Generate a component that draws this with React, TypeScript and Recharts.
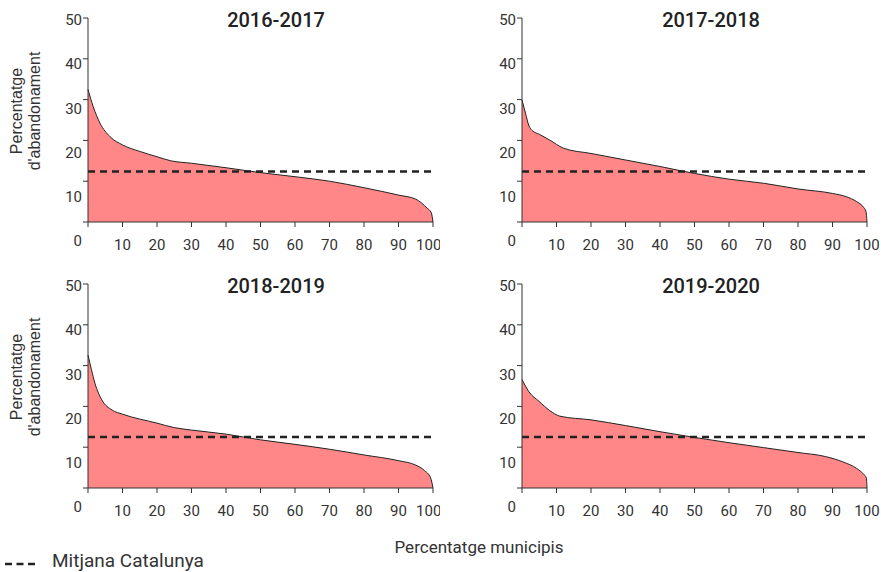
import { AreaChart, Area, XAxis, YAxis, ReferenceLine } from 'recharts'

// percentile of municipalities (x) and dropout % (y)
const pct1617 = [0, 1.5, 3.5, 6.4, 10, 15, 20, 24, 30, 40, 50, 60, 70, 80, 90, 95, 98.3, 99.5, 100]
const val1617 = [32.5, 28.3, 24.2, 20.9, 18.9, 17.3, 16.0, 15.0, 14.4, 13.3, 12.1, 11.1, 10.0, 8.4, 6.6, 5.6, 3.4, 2.3, 0]

const pct1718 = [0, 1, 2, 3, 5, 8, 12, 20, 30, 40, 50, 60, 70, 80, 90, 94, 97, 99, 99.7, 100]
const val1718 = [29.9, 26.7, 23.6, 22.4, 21.5, 20.1, 18.1, 16.8, 15.2, 13.6, 11.9, 10.5, 9.5, 8.1, 7.0, 6.2, 5.0, 3.6, 2.6, 0]

const pct1819 = [0, 1, 2, 4, 7, 10, 20, 25, 30, 40, 50, 60, 70, 80, 90, 95, 97.5, 99.3, 100]
const val1819 = [32.6, 29.0, 25.7, 21.6, 19.1, 18.1, 15.9, 14.8, 14.2, 13.2, 11.8, 10.7, 9.5, 8.1, 6.7, 5.6, 4.3, 2.5, 0]

const pct1920 = [0, 2, 5, 8, 11, 20, 30, 40, 50, 60, 70, 80, 88, 93, 97, 99, 99.8, 100]
const val1920 = [26.6, 23.6, 21.2, 19.0, 17.6, 16.7, 15.3, 13.8, 12.4, 11.1, 9.9, 8.7, 7.7, 6.4, 4.8, 3.4, 2.5, 0]

const titles = ['2016-2017', '2017-2018', '2018-2019', '2019-2020']
const averages = [12.4, 12.4, 12.5, 12.5]

const xTicks = [0, 10, 20, 30, 40, 50, 60, 70, 80, 90, 100]
const yTicks = [0, 10, 20, 30, 40, 50]

const toRows = (pct: number[], val: number[]) => pct.map((p, i) => ({ pct: p, value: val[i] }))

// the original's y labels drift downward relative to their ticks
function YTick(props: any) {
  const { x, y, payload } = props
  const v = payload.value
  const off = 2 + (50 - v) * 0.33
  return (
    <text x={x} y={y + off} dy="0.355em" textAnchor="end" fill="#333" fontSize={15} fontFamily="Roboto">
      {v}
    </text>
  )
}

interface PanelProps {
  data: { pct: number; value: number }[]
  avg: number
  title: string
  left: number
  top: number
  right: boolean
}

function Panel({ data, avg, title, left, top, right }: PanelProps) {
  const width = right ? 441 : 440
  const margin = right
    ? { top: 18, right: 14, left: 22, bottom: 8 }
    : { top: 18, right: 7, left: 28, bottom: 8 }
  const center = right ? 711 - left : 276
  return (
    <div style={{ position: 'absolute', left, top, width, height: 260 }}>
      <AreaChart width={width} height={260} data={data} margin={margin}>
        <XAxis
          dataKey="pct"
          type="number"
          domain={[0, 100]}
          ticks={xTicks}
          tickFormatter={(v) => (v === 0 ? '' : String(v))}
          tick={{ fontSize: 15, fill: '#333', fontFamily: 'Roboto' }}
          tickSize={5}
          tickMargin={12}
          stroke="#333"
          height={30}
        />
        <YAxis
          type="number"
          domain={[0, 50]}
          ticks={yTicks}
          tick={<YTick />}
          tickSize={5}
          tickMargin={1}
          stroke="#333"
          width={60}
        />
        <Area
          type="monotone"
          dataKey="value"
          stroke="#222"
          strokeWidth={1}
          fill="#ff8787"
          fillOpacity={1}
          isAnimationActive={false}
        />
        <ReferenceLine y={avg} stroke="#222" strokeWidth={2.5} strokeDasharray="7 5" />
      </AreaChart>
      <div
        style={{
          position: 'absolute',
          left: center - 100,
          top: 10,
          width: 200,
          textAlign: 'center',
          fontFamily: 'Roboto',
          fontWeight: 500,
          fontSize: 20,
          lineHeight: '20px',
          color: '#222',
        }}
      >
        {title}
      </div>
    </div>
  )
}

function YLabel({ cy }: { cy: number }) {
  return (
    <div
      style={{
        position: 'absolute',
        left: 26 - 100,
        top: cy - 18,
        width: 200,
        height: 36,
        transform: 'rotate(-90deg)',
        textAlign: 'center',
        fontFamily: '"Liberation Sans", Arial, sans-serif',
        fontSize: 16,
        lineHeight: '18px',
        color: '#333',
      }}
    >
      Percentatge
      <br />
      d'abandonament
    </div>
  )
}

export default function App() {
  return (
    <div style={{ position: 'absolute', left: 0, top: 0, width: 881, height: 572, background: '#fff', overflow: 'hidden' }}>
      <Panel data={toRows(pct1617, val1617)} avg={averages[0]} title={titles[0]} left={0} top={0} right={false} />
      <Panel data={toRows(pct1718, val1718)} avg={averages[1]} title={titles[1]} left={440} top={0} right />
      <Panel data={toRows(pct1819, val1819)} avg={averages[2]} title={titles[2]} left={0} top={266} right={false} />
      <Panel data={toRows(pct1920, val1920)} avg={averages[3]} title={titles[3]} left={440} top={266} right />
      <YLabel cy={111} />
      <YLabel cy={377} />
      <div
        style={{
          position: 'absolute',
          left: 379,
          top: 537,
          width: 200,
          textAlign: 'center',
          fontFamily: 'Roboto',
          fontSize: 17,
          lineHeight: '20px',
          color: '#333',
        }}
      >
        Percentatge municipis
      </div>
      <svg style={{ position: 'absolute', left: 0, top: 550 }} width={50} height={22}>
        <line x1={5} y1={14} x2={35} y2={14} stroke="#222" strokeWidth={2.5} strokeDasharray="7 4.5" />
      </svg>
      <div
        style={{
          position: 'absolute',
          left: 52,
          top: 550,
          fontFamily: 'Roboto',
          fontSize: 19,
          lineHeight: '22px',
          color: '#333',
          whiteSpace: 'nowrap',
        }}
      >
        Mitjana Catalunya
      </div>
    </div>
  )
}
